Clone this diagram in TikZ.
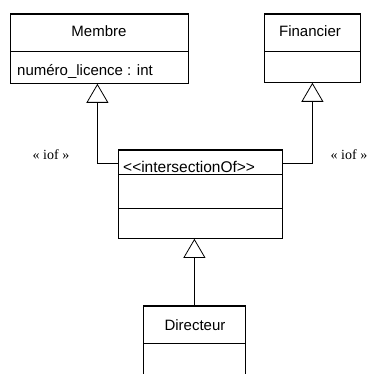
\documentclass[tikz,border=0pt]{standalone}
\usepackage{fontspec}
\setmainfont{Liberation Serif}
\newfontfamily\arialfont{Liberation Sans}
\usetikzlibrary{arrows.meta}
\begin{document}
\begin{tikzpicture}[x=1pt,y=-1pt,
  cls/.style={draw, line width=0.8pt, anchor=north west, inner sep=0pt},
  topline/.style={line width=2pt},
  sepline/.style={line width=0.8pt},
  inh/.style={-{Triangle[open,width=22pt,length=19pt,line width=0.8pt]}, line width=0.8pt},
  lbl/.style={font=\arialfont\fontsize{15}{18}\selectfont, inner sep=0pt, anchor=base},
  iof/.style={font=\fontsize{14}{16}\selectfont, inner sep=0pt, anchor=base},
  ]
\useasboundingbox (0,0) rectangle (369,374);
\clip (0,0) rectangle (369,374);
% Membre
\node[cls, minimum width=178pt, minimum height=69pt] (membre) at (10,14) {};
\draw[topline] (membre.north west) -- (membre.north east);
\draw[sepline] ([yshift=-37pt]membre.north west) -- ([yshift=-37pt]membre.north east);
\node[lbl] (membreN) at (99,37) {Membre};
\node[lbl, anchor=base west] (membreA) at (17,76) {numéro\_licence : int};
% Financier
\node[cls, minimum width=96pt, minimum height=68pt] (fin) at (264,14) {};
\draw[topline] (fin.north west) -- (fin.north east);
\draw[sepline] ([yshift=-37pt]fin.north west) -- ([yshift=-37pt]fin.north east);
\node[lbl] (finN) at (310,37) {Financier};
% intersection
\node[cls, minimum width=164pt, minimum height=88pt] (inter) at (118,150) {};
\draw[topline] (inter.north west) -- (inter.north east);
\draw[sepline] ([yshift=-24pt]inter.north west) -- ([yshift=-24pt]inter.north east);
\draw[sepline] ([yshift=-58pt]inter.north west) -- ([yshift=-58pt]inter.north east);
\node[lbl, anchor=base west, font=\arialfont\fontsize{15.5}{18}\selectfont] (interN) at (123,172) {<{}<intersectionOf>{}>};
% Directeur
\node[cls, minimum width=102pt, minimum height=80pt] (dir) at (143,306) {};
\draw[topline] (dir.north west) -- (dir.north east);
\draw[sepline] ([yshift=-37pt]dir.north west) -- ([yshift=-37pt]dir.north east);
\node[lbl] (dirN) at (195,330) {Directeur};
% connectors
\coordinate (inL) at ([yshift=-13pt]inter.north west);
\coordinate (inR) at ([yshift=-13pt]inter.north east);
\draw[inh] (inL) -| ([xshift=-2pt]membre.south);
\draw[inh] (inR) -| (fin.south);
\draw[inh] (dir.north) -- (dir.north |- inter.south);
% labels
\node[iof] (iofL) at (51,159) {« iof »};
\node[iof] (iofR) at (349,159) {« iof »};
\end{tikzpicture}
\end{document}
